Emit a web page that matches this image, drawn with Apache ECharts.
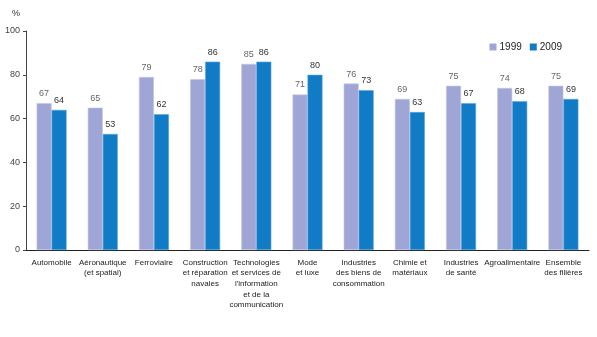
<!DOCTYPE html>
<html>
<head>
<meta charset="utf-8">
<script src="https://cdn.jsdelivr.net/npm/echarts@6/dist/echarts.min.js"></script>
<style>
html,body{margin:0;padding:0;background:#fff;}
#chart{width:597px;height:337px;}
</style>
</head>
<body>
<div id="chart"></div>
<script>
// Sector names (axis labels, with line breaks as printed)
const categories = [
  "Automobile",
  "Aéronautique\n(et spatial)",
  "Ferroviaire",
  "Construction\net réparation\nnavales",
  "Technologies\net services de\nl'information\net de la\ncommunication",
  "Mode\net luxe",
  "Industries\ndes biens de\nconsommation",
  "Chimie et\nmatériaux",
  "Industries\nde santé",
  "Agroalimentaire",
  "Ensemble\ndes filières"
];
const values1999 = [67, 65, 79, 78, 85, 71, 76, 69, 75, 74, 75];
const values2009 = [64, 53, 62, 86, 86, 80, 73, 63, 67, 68, 69];
const yTicks = [0, 20, 40, 60, 80, 100];

const FONT = "'Liberation Sans', Arial, sans-serif";
const chart = echarts.init(document.getElementById('chart'), null, {renderer: 'canvas'});

chart.setOption({
  animation: false,
  textStyle: {fontFamily: FONT},
  grid: {left: 26, right: 8, top: 31, bottom: 87, containLabel: false},
  legend: {
    data: ['1999', '2009'],
    right: 30, top: 37,
    itemWidth: 7, itemHeight: 7, itemGap: 8,
    icon: 'rect',
    itemStyle: {borderWidth: 0},
    textStyle: {fontSize: 10, color: '#222', fontFamily: FONT, padding: [0, 0, 0, -2]}
  },
  graphic: [{
    type: 'text', left: 12, top: 9,
    style: {text: '%', fontSize: 9, fill: '#333', fontFamily: FONT}
  }],
  xAxis: {
    type: 'category',
    data: categories,
    axisLine: {lineStyle: {color: '#222', width: 1}},
    axisTick: {show: false},
    axisLabel: {
      interval: 0, fontSize: 8, color: '#222', lineHeight: 10.7, margin: 7,
      fontFamily: FONT
    }
  },
  yAxis: {
    type: 'value',
    min: yTicks[0], max: yTicks[yTicks.length - 1], interval: 20,
    axisLine: {show: true, lineStyle: {color: '#444', width: 1}},
    axisTick: {show: true, length: 3, lineStyle: {color: '#444'}},
    splitLine: {show: false},
    axisLabel: {fontSize: 9, color: '#444', margin: 6, fontFamily: FONT}
  },
  series: [
    {
      name: '1999', type: 'bar', data: values1999,
      barWidth: 15, barGap: '0%',
      itemStyle: {color: '#9fa6d6', borderColor: '#c4c8e8', borderWidth: 0.6},
      label: {show: true, position: 'top', distance: 5, fontSize: 9, color: '#666', fontFamily: FONT}
    },
    {
      name: '2009', type: 'bar', data: values2009,
      barWidth: 15,
      itemStyle: {color: '#127bc6', borderColor: '#5aa7df', borderWidth: 0.6},
      label: {show: true, position: 'top', distance: 5, fontSize: 9, color: '#333', fontFamily: FONT}
    }
  ]
});
</script>
</body>
</html>
